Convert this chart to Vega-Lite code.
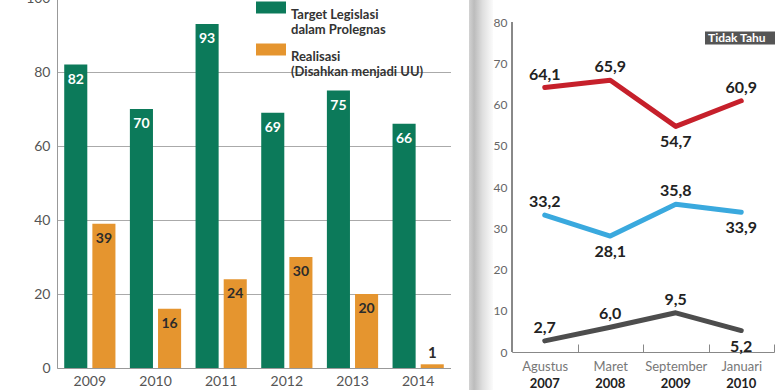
{
  "$schema": "https://vega.github.io/schema/vega-lite/v6.json",
  "background": "white",
  "padding": {"left": 25, "top": -9, "right": 0, "bottom": 0},
  "autosize": {"type": "pad"},
  "align": "none",
  "spacing": 0,
  "bounds": "full",
  "config": {
    "font": "Lato",
    "view": {"stroke": null},
    "locale": {"number": {"decimal": ",", "thousands": ".", "grouping": [3], "currency": ["Rp", ""]}}
  },
  "resolve": {"scale": {"color": "independent"}, "legend": {"color": "independent"}},
  "hconcat": [
    {
      "width": 394,
      "height": 370,
      "data": {"values": [
        {"tahun": "2009", "jenis": "Target Legislasi dalam Prolegnas", "jumlah": 82},
        {"tahun": "2009", "jenis": "Realisasi (Disahkan menjadi UU)", "jumlah": 39},
        {"tahun": "2010", "jenis": "Target Legislasi dalam Prolegnas", "jumlah": 70},
        {"tahun": "2010", "jenis": "Realisasi (Disahkan menjadi UU)", "jumlah": 16},
        {"tahun": "2011", "jenis": "Target Legislasi dalam Prolegnas", "jumlah": 93},
        {"tahun": "2011", "jenis": "Realisasi (Disahkan menjadi UU)", "jumlah": 24},
        {"tahun": "2012", "jenis": "Target Legislasi dalam Prolegnas", "jumlah": 69},
        {"tahun": "2012", "jenis": "Realisasi (Disahkan menjadi UU)", "jumlah": 30},
        {"tahun": "2013", "jenis": "Target Legislasi dalam Prolegnas", "jumlah": 75},
        {"tahun": "2013", "jenis": "Realisasi (Disahkan menjadi UU)", "jumlah": 20},
        {"tahun": "2014", "jenis": "Target Legislasi dalam Prolegnas", "jumlah": 66},
        {"tahun": "2014", "jenis": "Realisasi (Disahkan menjadi UU)", "jumlah": 1}
      ]},
      "encoding": {
        "x": {"field": "tahun", "type": "ordinal", "title": null,
          "scale": {"paddingInner": 0.22, "paddingOuter": 0.11},
          "axis": {"labelAngle": 0, "labelFontSize": 14, "labelColor": "#555", "ticks": false, "domainColor": "#999", "labelPadding": 6}},
        "xOffset": {"field": "jenis", "type": "nominal",
          "sort": ["Target Legislasi dalam Prolegnas", "Realisasi (Disahkan menjadi UU)"],
          "scale": {"paddingInner": 0.18}},
        "y": {"field": "jumlah", "type": "quantitative", "title": null,
          "scale": {"domain": [0, 100], "nice": false},
          "axis": {"values": [0, 20, 40, 60, 80, 100], "labelFontSize": 14, "labelColor": "#555", "ticks": false, "domainColor": "#999", "gridColor": "#aaa", "labelPadding": 7}}
      },
      "layer": [
        {
          "mark": {"type": "bar"},
          "encoding": {
            "color": {"field": "jenis", "type": "nominal",
              "scale": {"domain": ["Target Legislasi dalam Prolegnas", "Realisasi (Disahkan menjadi UU)"], "range": ["#0c7a5a", "#e5952f"]},
              "legend": {"orient": "none", "legendX": 199, "legendY": 2, "title": null,
                "labelExpr": "datum.label == 'Target Legislasi dalam Prolegnas' ? ['Target Legislasi', 'dalam Prolegnas'] : ['Realisasi', '(Disahkan menjadi UU)']",
                "labelFontSize": 13, "labelFontWeight": "bold", "labelColor": "#333", "labelOffset": 5,
                "symbolType": "M-1,-0.9H1V-0.1H-1Z", "symbolSize": 900, "symbolStrokeWidth": 0, "symbolOpacity": 1,
                "rowPadding": 5}}
          }
        },
        {
          "transform": [{"filter": "datum.jenis == 'Target Legislasi dalam Prolegnas'"}],
          "mark": {"type": "text", "baseline": "middle", "dy": 15, "fontSize": 14, "fontWeight": "bold", "color": "white"},
          "encoding": {"text": {"field": "jumlah", "type": "quantitative"}}
        },
        {
          "transform": [{"filter": "datum.jenis != 'Target Legislasi dalam Prolegnas' && datum.jumlah >= 5"}],
          "mark": {"type": "text", "baseline": "middle", "dy": 15, "fontSize": 14, "fontWeight": "bold", "color": "#2b2b2b"},
          "encoding": {"text": {"field": "jumlah", "type": "quantitative"}}
        },
        {
          "transform": [{"filter": "datum.jenis != 'Target Legislasi dalam Prolegnas' && datum.jumlah < 5"}],
          "mark": {"type": "text", "baseline": "middle", "dy": -11, "fontSize": 15, "fontWeight": "bold", "color": "#2b2b2b"},
          "encoding": {"text": {"field": "jumlah", "type": "quantitative"}}
        }
      ]
    },
    {
      "width": 42,
      "height": 400,
      "data": {"values": [{"a": 0, "b": 1}]},
      "mark": {"type": "rect", "color": {"gradient": "linear", "x1": 0, "x2": 1, "y1": 0, "y2": 0,
        "stops": [
          {"offset": 0, "color": "#ffffff"},
          {"offset": 0.42, "color": "#ffffff"},
          {"offset": 0.43, "color": "#d2d2d2"},
          {"offset": 0.55, "color": "#bcbcbc"},
          {"offset": 0.75, "color": "#dedede"},
          {"offset": 1, "color": "#fbfbfb"}
        ]}},
      "encoding": {
        "x": {"field": "a", "type": "quantitative", "scale": {"domain": [0, 1], "nice": false}, "axis": null},
        "x2": {"field": "b"},
        "y": {"field": "a", "type": "quantitative", "scale": {"domain": [0, 1], "nice": false}, "axis": null},
        "y2": {"field": "b"}
      }
    },
    {
      "width": 262,
      "height": 354,
      "data": {"values": [
        {"kategori": "Puas", "periode": "Agustus 2007", "idx": 0, "nilai": 64.1},
        {"kategori": "Puas", "periode": "Maret 2008", "idx": 1, "nilai": 65.9},
        {"kategori": "Puas", "periode": "September 2009", "idx": 2, "nilai": 54.7},
        {"kategori": "Puas", "periode": "Januari 2010", "idx": 3, "nilai": 60.9},
        {"kategori": "Tidak Puas", "periode": "Agustus 2007", "idx": 0, "nilai": 33.2},
        {"kategori": "Tidak Puas", "periode": "Maret 2008", "idx": 1, "nilai": 28.1},
        {"kategori": "Tidak Puas", "periode": "September 2009", "idx": 2, "nilai": 35.8},
        {"kategori": "Tidak Puas", "periode": "Januari 2010", "idx": 3, "nilai": 33.9},
        {"kategori": "Tidak Tahu", "periode": "Agustus 2007", "idx": 0, "nilai": 2.7},
        {"kategori": "Tidak Tahu", "periode": "Maret 2008", "idx": 1, "nilai": 6.0},
        {"kategori": "Tidak Tahu", "periode": "September 2009", "idx": 2, "nilai": 9.5},
        {"kategori": "Tidak Tahu", "periode": "Januari 2010", "idx": 3, "nilai": 5.2}
      ]},
      "transform": [
        {"window": [{"op": "lag", "field": "nilai", "as": "prev"}, {"op": "lead", "field": "nilai", "as": "next"}],
         "groupby": ["kategori"], "sort": [{"field": "idx"}]}
      ],
      "resolve": {"axis": {"x": "independent"}},
      "layer": [
        {
          "mark": {"type": "rule", "color": "#888", "strokeWidth": 1},
          "encoding": {
            "x": {"datum": "Agustus 2007", "type": "nominal", "bandPosition": 0, "axis": null},
            "y": {"datum": 0, "type": "quantitative"},
            "y2": {"datum": 80}
          }
        },
        {
          "mark": {"type": "line", "strokeWidth": 5, "strokeCap": "round", "strokeJoin": "round"},
          "encoding": {
            "x": {"field": "periode", "type": "nominal", "title": null,
              "sort": ["Agustus 2007", "Maret 2008", "September 2009", "Januari 2010"],
              "scale": {"type": "band", "paddingInner": 0, "paddingOuter": 0},
              "axis": {"orient": "bottom", "labelAngle": 0, "tickBand": "extent", "tickSize": -8, "tickColor": "#888", "domainColor": "#888",
                "labelExpr": "split(datum.label, ' ')[0]", "labelFontSize": 13, "labelColor": "#777", "labelPadding": 16}},
            "y": {"field": "nilai", "type": "quantitative", "title": null,
              "scale": {"domain": [0, 85.82], "nice": false},
              "axis": {"values": [0, 10, 20, 30, 40, 50, 60, 70, 80], "labelFontSize": 12, "labelColor": "#666", "ticks": false, "domain": false, "gridColor": "#aaa", "labelPadding": 5}},
            "color": {"field": "kategori", "type": "nominal",
              "scale": {"domain": ["Puas", "Tidak Puas", "Tidak Tahu"], "range": ["#c6202b", "#3aa9de", "#4d4d4d"]},
              "legend": {"values": ["Tidak Tahu"], "orient": "none", "legendX": 193, "legendY": 5, "title": null,
                "symbolType": "M-1,-0.186H1V0.186H-1Z", "symbolSize": 4900, "symbolStrokeWidth": 0, "symbolOpacity": 1, "symbolFillColor": "#555",
                "labelColor": "white", "labelFontSize": 12, "labelFontWeight": "bold", "labelOffset": -67}}
          }
        },
        {
          "transform": [{"filter": "!(datum.prev != null && datum.nilai < datum.prev && (datum.next == null || datum.nilai < datum.next))"}],
          "mark": {"type": "text", "baseline": "middle", "dy": -13, "fontSize": 16, "fontWeight": "bold", "color": "#222"},
          "encoding": {
            "x": {"field": "periode", "type": "nominal", "title": null,
              "sort": ["Agustus 2007", "Maret 2008", "September 2009", "Januari 2010"],
              "axis": {"orient": "bottom", "labelAngle": 0, "ticks": false, "domain": false, "grid": false,
                "labelExpr": "split(datum.label, ' ')[1]", "labelFontSize": 13, "labelFontWeight": "bold", "labelColor": "#222", "labelPadding": 25}},
            "y": {"field": "nilai", "type": "quantitative"},
            "text": {"field": "nilai", "type": "quantitative", "format": ".1f"}
          }
        },
        {
          "transform": [{"filter": "datum.prev != null && datum.nilai < datum.prev && (datum.next == null || datum.nilai < datum.next)"}],
          "mark": {"type": "text", "baseline": "middle", "dy": 16, "fontSize": 16, "fontWeight": "bold", "color": "#222"},
          "encoding": {
            "x": {"field": "periode", "type": "nominal", "sort": ["Agustus 2007", "Maret 2008", "September 2009", "Januari 2010"], "axis": null},
            "y": {"field": "nilai", "type": "quantitative"},
            "text": {"field": "nilai", "type": "quantitative", "format": ".1f"}
          }
        }
      ]
    }
  ]
}
